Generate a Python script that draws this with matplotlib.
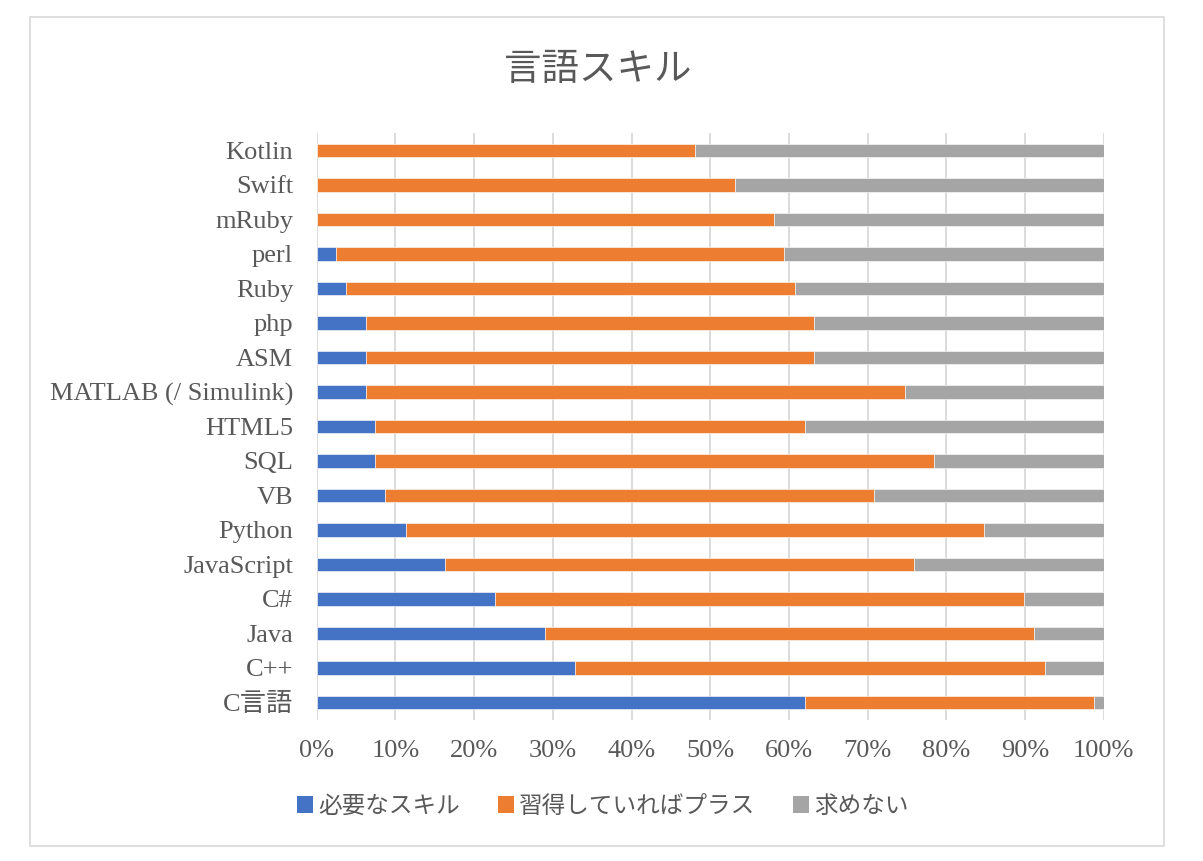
import matplotlib
matplotlib.use('Agg')
import matplotlib.pyplot as plt
from matplotlib.patches import Rectangle, Patch
import numpy as np

# data (percent), bottom to top
languages = ['C言語', 'C++', 'Java', 'C#', 'JavaScript', 'Python', 'VB', 'SQL',
             'HTML5', 'MATLAB (/ Simulink)', 'ASM', 'php', 'Ruby', 'perl',
             'mRuby', 'Swift', 'Kotlin']
required = [62.0, 32.8, 29.0, 22.7, 16.3, 11.3, 8.7, 7.4,
            7.4, 6.3, 6.3, 6.3, 3.7, 2.5, 0.0, 0.0, 0.0]
plus = [36.8, 59.7, 62.1, 67.2, 59.6, 73.5, 62.1, 71.0,
        54.6, 68.4, 56.9, 56.9, 57.1, 56.9, 58.1, 53.2, 48.1]
not_needed = [100 - a - b for a, b in zip(required, plus)]

series_names = ['必要なスキル', '習得していればプラス', '求めない']
colors = ['#4472C4', '#ED7D31', '#A5A5A5']

plt.rcParams['font.family'] = ['Liberation Serif', 'Noto Sans CJK JP']
text_color = '#595959'

fig = plt.figure(figsize=(12.03, 8.61), dpi=100)
ax = fig.add_axes([0.2633, 0.1643, 0.6542, 0.6812])

# outer border of the chart area
fig.patches.append(Rectangle((30 / 1203, 15 / 861), 1134 / 1203, 829 / 861,
                             transform=fig.transFigure, fill=False,
                             edgecolor='#D9D9D9', linewidth=1.2))

y = np.arange(len(languages))
left = np.zeros(len(languages))
for vals, name, c in zip([required, plus, not_needed], series_names, colors):
    ax.barh(y, vals, left=left, height=0.39, color=c, label=name,
            edgecolor='white', linewidth=0.4, zorder=3)
    left += np.array(vals)

ax.set_xlim(0, 100)
ax.set_ylim(-0.5, len(languages) - 0.5)
ax.set_xticks(np.arange(0, 101, 10))
ax.set_xticklabels([f'{v}%' for v in range(0, 101, 10)])
ax.set_yticks(y)
ax.set_yticklabels(languages)
ax.grid(axis='x', color='#D9D9D9', linewidth=1.3, zorder=0)
ax.tick_params(axis='both', length=0, labelsize=19, labelcolor=text_color)
ax.tick_params(axis='x', pad=15)
ax.tick_params(axis='y', pad=17)
for s in ax.spines.values():
    s.set_visible(False)

fig.text(0.497, 1 - 71 / 861, '言語スキル', ha='center', va='center',
         fontsize=27, color=text_color)

handles = [Patch(facecolor=c) for c in colors]
fig.legend(handles, series_names, loc='center', bbox_to_anchor=(0.501, 1 - 807 / 861),
           ncol=3, frameon=False, fontsize=17, labelcolor=text_color,
           handlelength=0.7, handleheight=0.7, handletextpad=0.2, columnspacing=1.6)

fig.savefig('out.png', dpi=100)
